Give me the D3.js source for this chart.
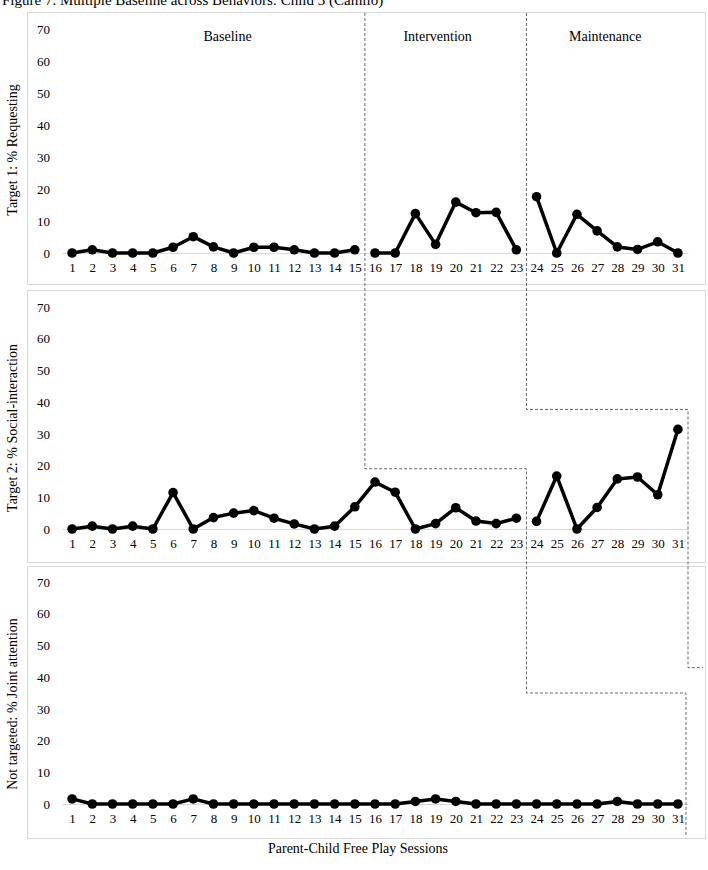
<!DOCTYPE html>
<html>
<head>
<meta charset="utf-8">
<script src="https://cdn.jsdelivr.net/npm/d3@7"></script>
<style>
  body { margin: 0; background: #fff; }
  text { font-family: "Liberation Serif", "Times New Roman", serif; fill: #000; }
</style>
</head>
<body>
<div id="chart"></div>
<script>
// DATA
var sessions = d3.range(1, 32);
var yTicks = [0, 10, 20, 30, 40, 50, 60, 70];
var panelTitles = ["Target 1: % Requesting", "Target 2: % Social-interaction", "Not targeted: % Joint attention"];
var phaseNames = ["Baseline", "Intervention", "Maintenance"];
var phaseLabelAt = [8.7, 19.1, 27.4]; // session position of each phase label

var requesting = [0, 1, 0, 0, 0, 1.8, 5.1, 1.9, 0, 1.8, 1.8, 1, 0, 0, 1,
  0, 0, 12.3, 2.7, 15.9, 12.6, 12.7, 1,
  17.6, 0, 12.1, 6.9, 1.9, 1.1, 3.5, 0];
var socialInteraction = [0, 0.9, 0, 0.9, 0, 11.5, 0, 3.6, 5, 5.8, 3.4, 1.6, 0, 0.9, 7,
  14.8, 11.6, 0, 1.7, 6.7, 2.5, 1.7, 3.4,
  2.4, 16.7, 0, 6.8, 15.8, 16.4, 10.8, 31.4];
var jointAttention = [1.6, 0, 0, 0, 0, 0, 1.6, 0, 0, 0, 0, 0, 0, 0, 0,
  0, 0, 0.8, 1.6, 0.8, 0, 0, 0,
  0, 0, 0, 0, 0.8, 0, 0, 0];

// sessions after which the line is broken, per panel
var breaks = [[15, 23], [23], []];

// phase change lines: [panel, session position, value]
var phaseLine1 = [[0, 15.5, 75], [1, 15.5, 19], [1, 23.5, 19], [2, 23.5, 35], [2, 31.4, 35], [2, 31.4, -10.5]];
var phaseLine2 = [[0, 23.5, 75], [1, 23.5, 37.7], [1, 31.5, 37.7], [2, 31.5, 43], [2, 32.25, 43]];

var series = [requesting, socialInteraction, jointAttention];

// LAYOUT
var W = 708, H = 870;
var panels = [
  { top: 12, bottom: 284, y0: 253, y70: 29 },
  { top: 290, bottom: 562, y0: 529, y70: 307 },
  { top: 566, bottom: 838, y0: 804, y70: 582 }
];

var svg = d3.select("#chart").append("svg")
  .attr("width", W).attr("height", H);

var x = d3.scalePoint().domain(sessions).range([62, 688]).padding(0.5);
function xPos(s) { return x(1) + (s - 1) * x.step(); }

// title (cut off at the top like the reference)
svg.append("text")
  .attr("x", 2).attr("y", 4.5)
  .style("font-size", "15px")
  .text("Figure 7. Multiple Baseline across Behaviors: Child 3 (Camilo)");

var yScales = [];

panels.forEach(function (p, i) {
  var y = d3.scaleLinear().domain([0, 70]).range([p.y0, p.y70]);
  yScales.push(y);

  var g = svg.append("g");

  // panel frame
  g.append("rect")
    .attr("x", 27.5).attr("y", p.top + 0.5)
    .attr("width", 678).attr("height", p.bottom - p.top)
    .attr("fill", "none").attr("stroke", "#d9d9d9");

  // y axis labels
  var yAxis = g.append("g")
    .attr("transform", "translate(52,0)")
    .call(d3.axisLeft(y).tickValues(yTicks).tickSize(0).tickPadding(2));
  yAxis.select(".domain").remove();
  yAxis.selectAll("text").style("font-size", "13px")
    .style("font-family", "Liberation Serif, Times New Roman, serif");

  // x axis with light grey baseline
  var xAxis = g.append("g")
    .attr("transform", "translate(0," + y(0) + ")")
    .call(d3.axisBottom(x).tickSize(0).tickPadding(10));
  xAxis.select(".domain").attr("stroke", "#d9d9d9").attr("stroke-width", 1);
  xAxis.selectAll("text").style("font-size", "13px")
    .style("font-family", "Liberation Serif, Times New Roman, serif");

  // y axis title
  svg.append("text")
    .attr("transform", "translate(17," + ((p.top + p.bottom) / 2 + 2) + ") rotate(-90)")
    .attr("text-anchor", "middle")
    .style("font-size", "14px")
    .text(panelTitles[i]);

  // data split into phase segments
  var vals = series[i];
  var segs = [];
  var cur = [];
  vals.forEach(function (v, k) {
    cur.push({ s: sessions[k], v: v });
    if (breaks[i].indexOf(sessions[k]) >= 0) { segs.push(cur); cur = []; }
  });
  segs.push(cur);

  var line = d3.line().x(function (d) { return x(d.s); }).y(function (d) { return y(d.v); });

  g.selectAll("path.series")
    .data(segs)
    .enter().append("path")
    .attr("class", "series")
    .attr("d", line)
    .attr("fill", "none")
    .attr("stroke", "#000")
    .attr("stroke-width", 3.5)
    .attr("stroke-linejoin", "round");

  g.selectAll("circle")
    .data(vals)
    .enter().append("circle")
    .attr("cx", function (d, k) { return x(sessions[k]); })
    .attr("cy", function (d) { return y(d); })
    .attr("r", 4.8)
    .attr("fill", "#000");
});

// phase labels
phaseNames.forEach(function (n, k) {
  svg.append("text")
    .attr("x", xPos(phaseLabelAt[k]))
    .attr("y", yScales[0](70) + 12)
    .attr("text-anchor", "middle")
    .style("font-size", "14px")
    .text(n);
});

// phase change lines
var phaseLine = d3.line()
  .x(function (d) { return xPos(d[1]); })
  .y(function (d) { return yScales[d[0]](d[2]); });

[phaseLine1, phaseLine2].forEach(function (pl) {
  svg.append("path")
    .attr("d", phaseLine(pl))
    .attr("fill", "none")
    .attr("stroke", "#666")
    .attr("stroke-width", 1)
    .attr("stroke-dasharray", "3,2");
});

// x axis title
svg.append("text")
  .attr("x", 358).attr("y", 853)
  .attr("text-anchor", "middle")
  .style("font-size", "14px")
  .text("Parent-Child Free Play Sessions");
</script>
</body>
</html>
